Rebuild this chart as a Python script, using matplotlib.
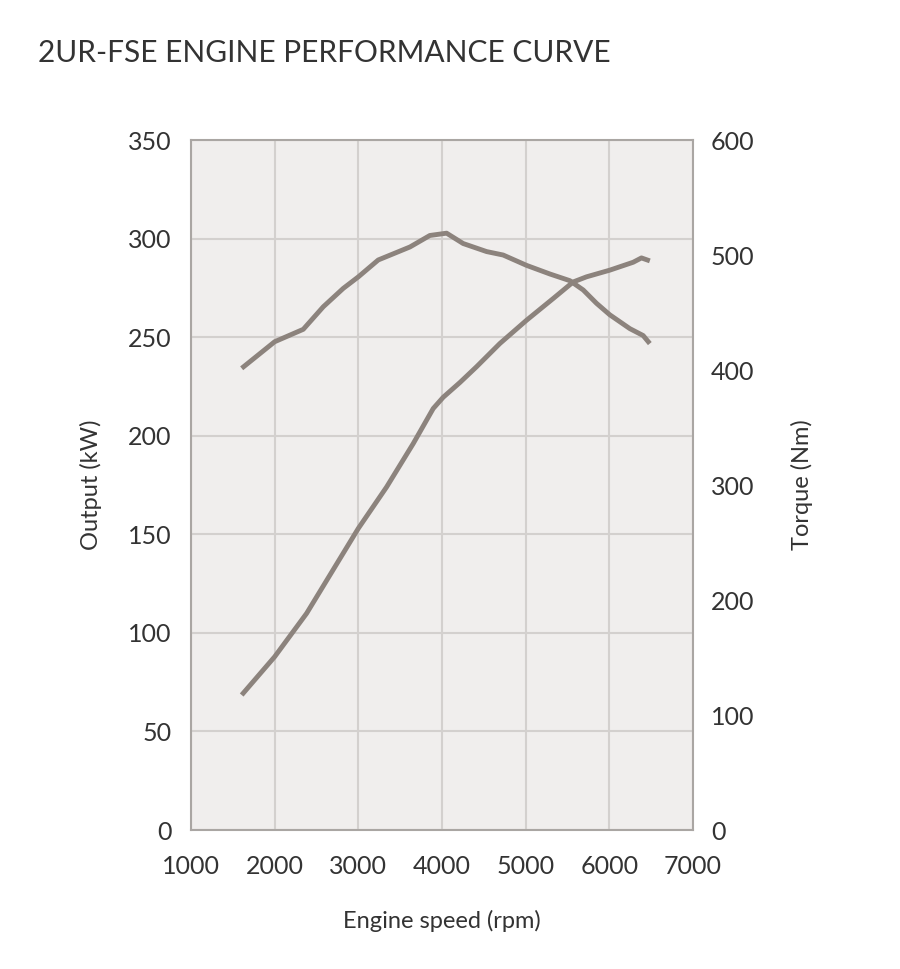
import matplotlib.pyplot as plt

# engine speed (rpm) and output (kW)
output_rpm = [1606, 2000, 2382, 3000, 3338, 3656, 3895, 4014, 4214, 4413, 4692, 5011, 5329, 5568, 5727, 6006, 6285, 6384, 6484]
output_kw = [68.5, 87.9, 109.9, 153, 174, 196, 213.8, 219.5, 227, 235, 246.8, 258.6, 269.6, 278, 280.6, 284, 288, 290.2, 288.7]

# torque (Nm)
torque_rpm = [1606, 2000, 2342, 2581, 2820, 3000, 3238, 3617, 3855, 4055, 4253, 4533, 4731, 5011, 5290, 5528, 5688, 5847, 6006, 6245, 6404, 6484]
torque_nm = [401.5, 424.6, 435.4, 455, 471, 481, 495.7, 507, 517, 519, 510, 503, 500, 491, 483.5, 477.7, 469.6, 458, 448, 436, 430, 423]

x_ticks = [1000, 2000, 3000, 4000, 5000, 6000, 7000]
kw_ticks = [0, 50, 100, 150, 200, 250, 300, 350]
nm_ticks = [0, 100, 200, 300, 400, 500, 600]

plt.rcParams['font.family'] = ['Lato', 'DejaVu Sans']
text_col = "#333333"
line_col = "#8c837d"

fig = plt.figure(figsize=(9, 9.69), dpi=100)
ax = fig.add_axes([0.2122, 0.1434, 0.5578, 0.7121])
ax.set_facecolor("#f0eeed")

ax.plot(output_rpm, output_kw, color=line_col, lw=3.5, solid_capstyle="butt", zorder=3)

ax.set_xlim(1000, 7000)
ax.set_ylim(0, 350)
ax.set_xticks(x_ticks)
ax.set_yticks(kw_ticks)
ax.grid(True, color="#d3d0ce", lw=1.5)
ax.set_axisbelow(True)
for s in ax.spines.values():
    s.set_color("#aaa6a3")
    s.set_linewidth(1.5)
ax.tick_params(length=0, labelsize=18, colors=text_col, pad=14)
ax.tick_params(axis="x", pad=18)
ax.set_xlabel("Engine speed (rpm)", fontsize=17, color=text_col, labelpad=23)
ax.set_ylabel("Output (kW)", fontsize=17, color=text_col, labelpad=19)

ax2 = ax.twinx()
ax2.plot(torque_rpm, torque_nm, color=line_col, lw=3.5, solid_capstyle="butt", zorder=3)
ax2.set_ylim(0, 600)
ax2.set_yticks(nm_ticks)
for s in ax2.spines.values():
    s.set_visible(False)
ax2.tick_params(length=0, labelsize=18, colors=text_col, pad=13)
ax2.set_ylabel("Torque (Nm)", fontsize=17, color=text_col, labelpad=26)

fig.text(38 / 900, 1 - 53 / 969, "2UR-FSE ENGINE PERFORMANCE CURVE", fontsize=21.5,
         color=text_col, ha="left", va="center")

fig.savefig("out.png", dpi=100, facecolor="white")
